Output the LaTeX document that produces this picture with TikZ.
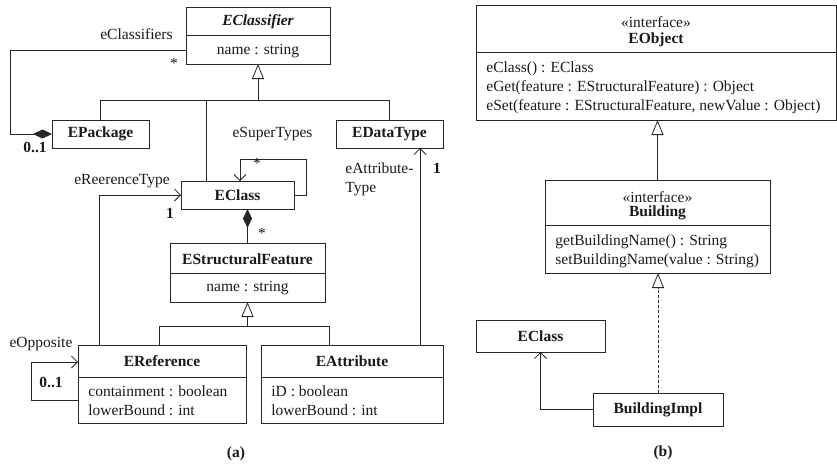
\documentclass[tikz,border=0pt]{standalone}
\usepackage{fontspec}
\setmainfont{Liberation Serif}
\usetikzlibrary{arrows.meta,calc}
\begin{document}
\begin{tikzpicture}[x=1pt,y=-1pt,
  font=\fontsize{15.5}{19}\selectfont,
  line width=0.8pt, color=black!85,
  umlbox/.style={draw, rectangle, inner sep=0pt, outer sep=0pt, anchor=north west},
  lbl/.style={inner sep=0pt, text=black!90},
  ttl/.style={inner sep=0pt, font=\fontsize{15.5}{19}\selectfont\bfseries, text=black!90},
  bnum/.style={inner sep=0pt, font=\fontsize{15.5}{19}\selectfont\bfseries, text=black!90},
  ops/.style={inner sep=0pt, anchor=west, align=left, text=black!90},
  gen/.style={-{Triangle[open,length=15pt,width=12pt]}},
  comp/.style={-{Diamond[length=19pt,width=9pt]}},
  assoc/.style={-{Straight Barb[length=6pt,width=12pt]}},
  real/.style={dash pattern=on 3pt off 2pt, -{Triangle[open,length=15pt,width=12pt]}}]
\useasboundingbox (0,0) rectangle (837,466);

% ---------------- (a) Ecore meta-model ----------------
\node[umlbox, minimum width=144, minimum height=57] (ecl) at (186,7) {};
\draw (ecl.west |- 0,35) -- (ecl.east |- 0,35);
\node[lbl, font=\fontsize{15.5}{19}\selectfont\bfseries\itshape] (eclT) at (258,22) {EClassifier};
\node[lbl] (eclA) at (258,51) {name : string};

\node[umlbox, minimum width=97, minimum height=28] (epk) at (52,120) {};
\node[ttl] (epkT) at (epk.center) {EPackage};

\node[umlbox, minimum width=107, minimum height=28] (edt) at (336,120) {};
\node[ttl] (edtT) at (edt.center) {EDataType};

\node[umlbox, minimum width=113, minimum height=28] (ecls) at (181,181) {};
\node[ttl] (eclsT) at (ecls.center) {EClass};

\node[umlbox, minimum width=155, minimum height=59] (esf) at (170,243) {};
\draw (esf.west |- 0,273) -- (esf.east |- 0,273);
\node[ttl] (esfT) at (247.5,259) {EStructuralFeature};
\node[lbl] (esfA) at (247.5,288) {name : string};

\node[umlbox, minimum width=168, minimum height=78] (eref) at (78,345) {};
\draw (eref.west |- 0,377) -- (eref.east |- 0,377);
\node[ttl] (erefT) at (162,361) {EReference};
\node[ops] (erefA) at (88,401) {containment : boolean\\lowerBound : int};

\node[umlbox, minimum width=182, minimum height=78] (eatt) at (261,345) {};
\draw (eatt.west |- 0,377) -- (eatt.east |- 0,377);
\node[ttl] (eattT) at (352,361) {EAttribute};
\node[ops] (eattA) at (271,401) {iD : boolean\\lowerBound : int};

% attachment points on the box edges
\coordinate (eclsTop) at ($(ecls.north)+(-31.5,0)$);
\coordinate (erefTop) at ($(eref.north)+(-3,0)$);
\coordinate (erefLink) at ($(eref.north west)+(21,0)$);
\coordinate (eattTop) at ($(eatt.north)+(-23,0)$);
\coordinate (eattLink) at ($(eatt.north east)+(-23,0)$);
\coordinate (oppOut) at ($(eref.west)+(0,16)$);
\coordinate (oppIn) at ($(eref.west)+(0,-22)$);

% generalisation tree under EClassifier
\coordinate (g1) at (ecl.south |- 0,100);
\draw[gen] (g1) -- (ecl.south);
\draw (epk.north) |- (g1);
\draw (edt.north) |- (g1);
\draw (eclsTop) -- (eclsTop |- g1);

% eClassifiers containment
\draw[comp] (ecl.west |- 0,50) -| (10,134) -- (epk.west);
\node[lbl] (lcls) at (136.5,34) {eClassifiers};
\node[lbl] (lclsm) at (174,63) {*};
\node[bnum] (lpkm) at (35,147) {0..1};

% eSuperTypes self reference
\draw[assoc] (ecls.east) -- ++(12,0) |- (240,159) -- (240,181);
\node[lbl] (lsup) at (272.5,134) {eSuperTypes};
\node[lbl] (lsupm) at (257,163) {*};

% eReferenceType
\draw[assoc] (erefLink) |- (ecls.west);
\node[lbl] (lrt) at (122,181) {eReerenceType};
\node[bnum] (lrtm) at (170,213) {1};

% eStructuralFeatures containment
\draw[comp] (esf.north) -- (esf.north |- ecls.south);
\node[lbl] (lsfm) at (262,233) {*};

% generalisation tree under EStructuralFeature
\coordinate (g2) at (esf.south |- 0,326);
\draw[gen] (g2) -- (esf.south);
\draw (erefTop) |- (g2);
\draw (eattTop) |- (g2);

% eAttributeType
\draw[assoc] (eattLink) -- (eattLink |- edt.south);
\node[lbl, anchor=west, align=left] (lat) at (345,179) {eAttribute-\\Type};
\node[bnum] (latm) at (437,168) {1};

% eOpposite self reference
\draw[assoc] (oppOut) -- (31,400) |- (oppIn);
\node[lbl] (lop) at (41,344) {eOpposite};
\node[bnum] (lopm) at (51,382) {0..1};

\node[bnum] (capa) at (236,454) {(a)};

% ---------------- (b) generated code ----------------
\node[umlbox, minimum width=360, minimum height=115] (eobj) at (476,5) {};
\draw (eobj.west |- 0,52) -- (eobj.east |- 0,52);
\node[lbl] (eobjS) at (656,22) {«interface»};
\node[ttl] (eobjT) at (656,40) {EObject};
\node[ops] (eobjO) at (486,87.5) {eClass() : EClass\\eGet(feature : EStructuralFeature) : Object\\eSet(feature : EStructuralFeature, newValue : Object)};

\node[umlbox, minimum width=225, minimum height=93] (bld) at (545,180) {};
\draw (bld.west |- 0,225) -- (bld.east |- 0,225);
\node[lbl] (bldS) at (657.5,197) {«interface»};
\node[ttl] (bldT) at (657.5,213) {Building};
\node[ops] (bldO) at (555,251) {getBuildingName() : String\\setBuildingName(value : String)};

\node[umlbox, minimum width=129, minimum height=32] (ecb) at (476,320) {};
\node[ttl] (ecbT) at (ecb.center) {EClass};

\node[umlbox, minimum width=130, minimum height=33] (bimpl) at (593,393) {};
\node[ttl] (bimplT) at (bimpl.center) {BuildingImpl};

\draw[gen] (bld.north) -- (bld.north |- eobj.south);
\draw[real] (bimpl.north) -- (bimpl.north |- bld.south);
\draw[assoc] (bimpl.west) -| (ecb.south);

\node[bnum] (capb) at (663,453) {(b)};
\end{tikzpicture}
\end{document}
